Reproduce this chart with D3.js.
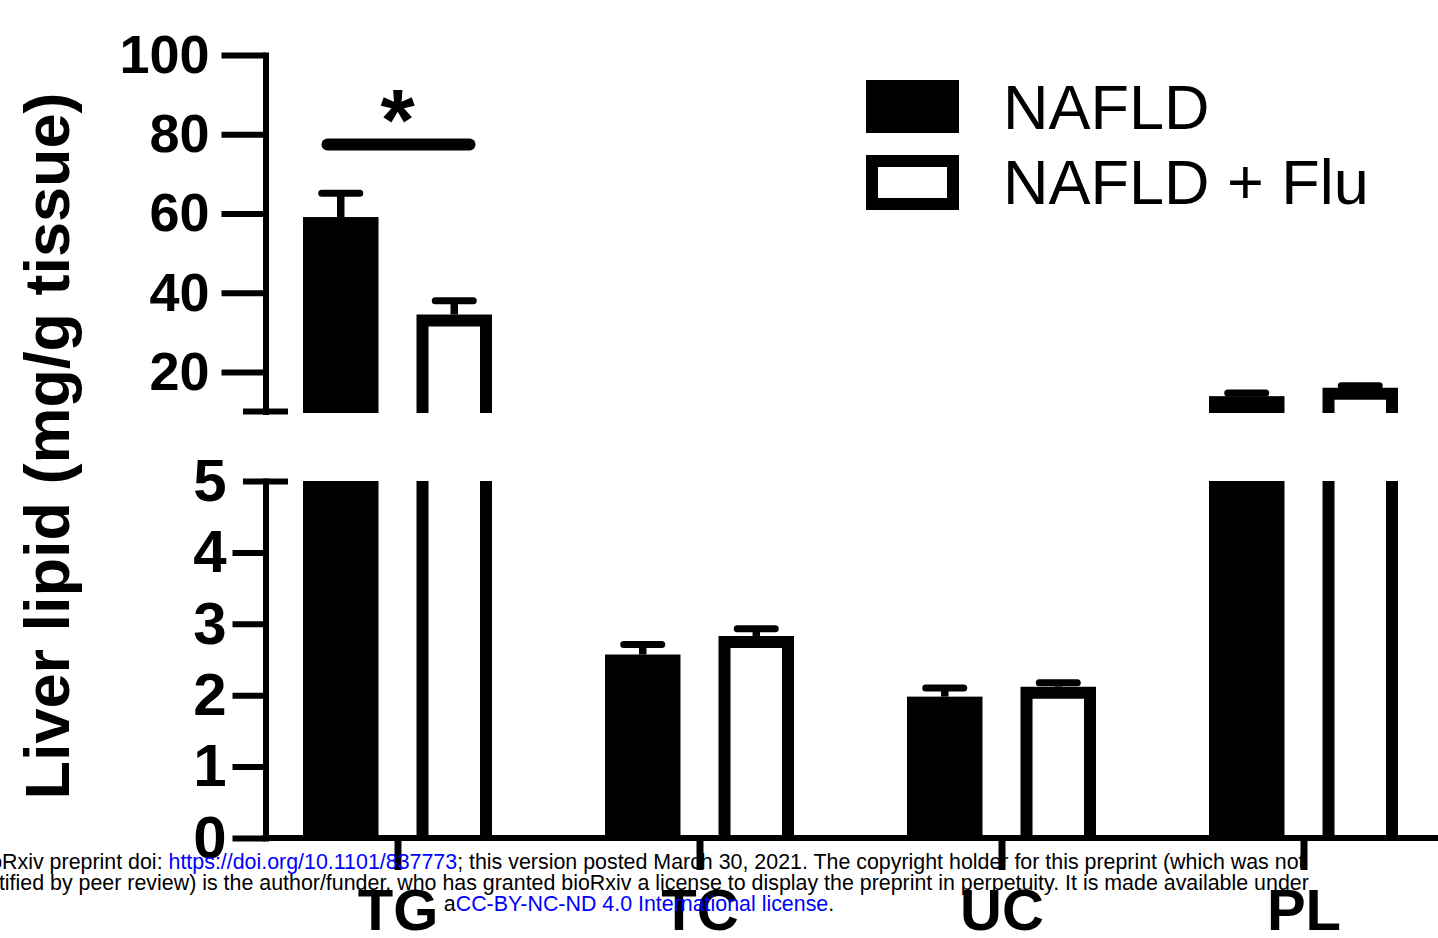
<!DOCTYPE html>
<html>
<head>
<meta charset="utf-8">
<script src="https://cdn.jsdelivr.net/npm/d3@7"></script>
<style>
  body { margin: 0; background: #fff; }
  svg { display: block; font-family: "Liberation Sans", Arial, sans-serif; }
</style>
</head>
<body>
<div id="chart"></div>
<script>
// data
var categories = ["TG", "TC", "UC", "PL"]
var series = ["NAFLD", "NAFLD + Flu"]
var nafldMean = [59.1, 2.57, 1.98, 13.9]
var nafldSem = [6.0, 0.14, 0.12, 0.8]
var fluMean = [34.5, 2.83, 2.12, 16.0]
var fluSem = [3.5, 0.10, 0.055, 0.5]
var upperTicks = [20, 40, 60, 80, 100]
var lowerTicks = [0, 1, 2, 3, 4, 5]
var sigLevel = 77.4 // height of the TG comparison bar

var footerLines = [
    [["bioRxiv preprint doi: ", "#000"], ["https://doi.org/10.1101/837773", "#0000ff"], ["; this version posted March 30, 2021. The copyright holder for this preprint (which was not", "#000"]],
    [["certified by peer review) is the author/funder, who has granted bioRxiv a license to display the preprint in perpetuity. It is made available under", "#000"]],
    [["a", "#000"], ["CC-BY-NC-ND 4.0 International license", "#0000ff"], [".", "#000"]]
]

var width = 1438, height = 938
var axisX = 265.5

var svg = d3.select("#chart").append("svg")
    .attr("width", width)
    .attr("height", height)

// scales
var x = d3.scalePoint().domain(categories).range([397.5, 1303.5])
var xInner = d3.scaleBand().domain(series).range([-94.5, 94.5]).paddingInner(0.335)
var bw = xInner.bandwidth()
var yTop = d3.scaleLinear().domain([10, 100]).range([411.6, 55])
var yBot = d3.scaleLinear().domain([0, 5]).range([838, 481])
var topBreak = 413

var bars = []
categories.forEach((c, i) => {
    bars.push({cat: c, s: series[0], mean: nafldMean[i], sem: nafldSem[i]})
    bars.push({cat: c, s: series[1], mean: fluMean[i], sem: fluSem[i]})
})

// split each bar into pieces for the broken axis
var pieces = []
bars.forEach(d => {
    var x0 = x(d.cat) + xInner(d.s)
    if (d.mean > 5) {
        pieces.push({d, x0, y0: yTop(d.mean), y1: topBreak, open: false})
        pieces.push({d, x0, y0: yBot(5), y1: yBot(0), open: true})
    } else {
        pieces.push({d, x0, y0: yBot(d.mean), y1: yBot(0), open: false})
    }
})

var barG = svg.append("g")
barG.selectAll("rect")
    .data(pieces)
    .enter()
    .append("rect")
    .attr("x", p => p.x0)
    .attr("y", p => p.y0)
    .attr("width", bw)
    .attr("height", p => p.y1 - p.y0)
    .attr("fill", p => p.d.s == series[0] ? "#000" : "#fff")

// outline for the open bars
var bStroke = 12
barG.selectAll("path")
    .data(pieces.filter(p => p.d.s == series[1]))
    .enter()
    .append("path")
    .attr("d", p => {
        var l = p.x0 + bStroke / 2, r = p.x0 + bw - bStroke / 2
        if (p.open) return `M${l},${p.y1}V${p.y0}M${r},${p.y0}V${p.y1}`
        return `M${l},${p.y1}V${p.y0 + bStroke / 2}H${r}V${p.y1}`
    })
    .attr("fill", "none")
    .attr("stroke", "#000")
    .attr("stroke-width", bStroke)
    .attr("stroke-linejoin", "miter")

// error bars (upper side only)
var errG = svg.append("g").attr("stroke", "#000")
bars.forEach(d => {
    var sc = d.mean > 5 ? yTop : yBot
    var cx = x(d.cat) + xInner(d.s) + bw / 2
    errG.append("line")
        .attr("x1", cx).attr("x2", cx)
        .attr("y1", sc(d.mean)).attr("y2", sc(d.mean + d.sem))
        .attr("stroke-width", 7.5)
    errG.append("line")
        .attr("x1", cx - 19).attr("x2", cx + 19)
        .attr("y1", sc(d.mean + d.sem)).attr("y2", sc(d.mean + d.sem))
        .attr("stroke-width", 7)
        .attr("stroke-linecap", "round")
})

// y axes
var lineW = 6
var gTop = svg.append("g")
    .attr("transform", `translate(${axisX},0)`)
    .call(d3.axisLeft(yTop).tickValues(upperTicks).tickSize(44).tickSizeOuter(0).tickPadding(12))
var gBot = svg.append("g")
    .attr("transform", `translate(${axisX},0)`)
    .call(d3.axisLeft(yBot).tickValues(lowerTicks).tickFormat(d3.format("d")).tickSize(33).tickSizeOuter(0).tickPadding(6))

;[gTop, gBot].forEach(g => {
    g.attr("font-family", null).attr("font-size", null)
    g.select(".domain").attr("stroke-width", lineW).attr("stroke-linecap", "square")
    g.selectAll(".tick line").attr("stroke-width", lineW)
    g.selectAll(".tick text").attr("font-weight", "bold").attr("fill", "#000")
})
gTop.selectAll(".tick text").attr("font-size", "54px")
gBot.selectAll(".tick text").attr("font-size", "60px")

// break marks
gBot.selectAll(".tick").filter(v => v == 5).select("line").attr("x1", 22.5).attr("x2", -22.5)
gTop.append("line")
    .attr("x1", -22.5).attr("x2", 22.5)
    .attr("y1", yTop(10)).attr("y2", yTop(10))
    .attr("stroke", "#000").attr("stroke-width", lineW)

// x axis
var gX = svg.append("g")
    .attr("transform", `translate(0,${yBot(0)})`)
    .call(d3.axisBottom(x).tickSize(32).tickSizeOuter(0))
gX.attr("font-family", null).attr("font-size", null)
gX.select(".domain").remove()
gX.append("line")
    .attr("x1", axisX - lineW / 2).attr("x2", width)
    .attr("stroke", "#000").attr("stroke-width", lineW)
gX.selectAll(".tick line").attr("stroke-width", 7)
gX.selectAll(".tick text")
    .attr("y", 92).attr("dy", null)
    .attr("font-size", "58px").attr("font-weight", "bold").attr("fill", "#000")

// y label
svg.append("text")
    .attr("transform", "translate(69,446) rotate(-90)")
    .attr("text-anchor", "middle")
    .attr("font-size", "63px")
    .attr("font-weight", "bold")
    .text("Liver lipid (mg/g tissue)")

// significance
svg.append("line")
    .attr("x1", x("TG") - 70).attr("x2", x("TG") + 72)
    .attr("y1", yTop(sigLevel)).attr("y2", yTop(sigLevel))
    .attr("stroke", "#000").attr("stroke-width", 12).attr("stroke-linecap", "round")
svg.append("text")
    .attr("x", x("TG"))
    .attr("y", 150)
    .attr("text-anchor", "middle")
    .attr("font-size", "88px")
    .attr("font-weight", "bold")
    .text("*")

// legend
var leg = svg.append("g").selectAll("g")
    .data(series)
    .enter()
    .append("g")
    .attr("transform", (d, i) => `translate(866,${80 + i * 75})`)
leg.append("rect")
    .attr("x", (d, i) => i ? 6 : 0)
    .attr("y", (d, i) => i ? 6 : 0)
    .attr("width", (d, i) => i ? 81 : 93)
    .attr("height", (d, i) => i ? 43 : 53)
    .attr("fill", (d, i) => i ? "#fff" : "#000")
    .attr("stroke", (d, i) => i ? "#000" : "none")
    .attr("stroke-width", 12)
leg.append("text")
    .attr("x", 137)
    .attr("y", 49)
    .attr("font-size", "63px")
    .text(d => d)

// preprint footer on top
var foot = svg.append("g").attr("font-size", "21.4px").attr("text-anchor", "middle")
footerLines.forEach((line, i) => {
    var t = foot.append("text").attr("x", 639).attr("y", 869 + i * 21)
    line.forEach(part => t.append("tspan").attr("fill", part[1]).text(part[0]))
})
</script>
</body>
</html>
